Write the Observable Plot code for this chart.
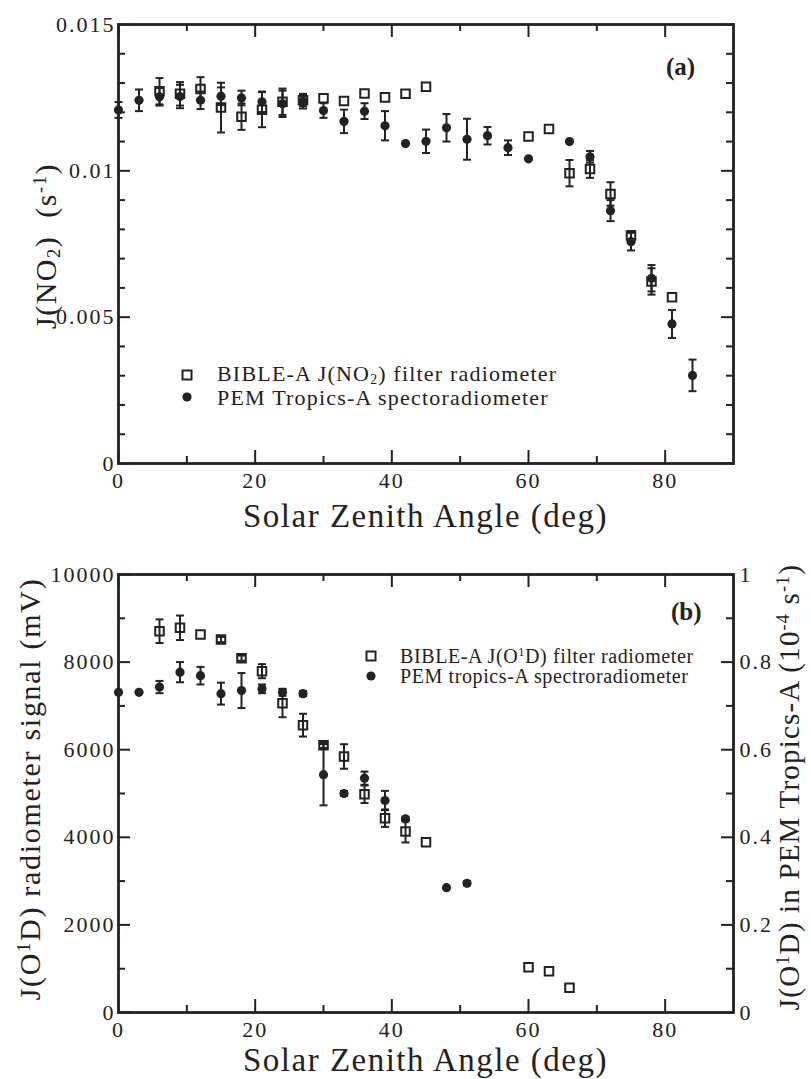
<!DOCTYPE html>
<html><head><meta charset="utf-8">
<script src="https://cdn.jsdelivr.net/npm/d3@7"></script>
<script src="https://cdn.jsdelivr.net/npm/@observablehq/plot@0.6"></script>
<style>
body{margin:0;background:#fff;}
#wrap{position:relative;width:811px;height:1079px;font-family:"Liberation Serif","Times New Roman",Times,"DejaVu Serif",serif;color:#222;overflow:hidden;}
#wrap svg.plot{position:absolute;left:0;}
.abs{position:absolute;white-space:nowrap;line-height:1;}
.rot{transform:translate(-50%,-50%) rotate(-90deg);}
.sub{font-size:0.62em;position:relative;top:0.22em;line-height:0;}
.sup{font-size:0.62em;position:relative;top:-0.55em;line-height:0;}
</style></head><body><div id="wrap"></div><script>
// ---------- data ----------
// Panel (a): J(NO2), s^-1
const bibleA_sza = [6,9,12,15,18,21,24,27,30,33,36,39,42,45,60,63,66,69,72,75,78,81];
const bibleA_j   = [0.01272,0.01263,0.01280,0.01216,0.01185,0.01209,0.01236,0.01241,0.01248,0.01239,0.01264,0.01251,0.01263,0.01287,0.01117,0.01143,0.00992,0.01006,0.00921,0.00779,0.00622,0.00568];
const bibleA_err = [0.00045,0.0004,0.0004,0.00085,0.00045,0.0006,0.00045,0.0002,0,0,0,0,0,0,0,0,0.00045,0.0003,0.0004,0.00015,0.00045,0];
const pemA_sza = [0,3,6,9,12,15,18,21,24,27,30,33,36,39,42,45,48,51,54,57,60,66,69,72,75,78,81,84];
const pemA_j   = [0.01208,0.01241,0.01253,0.01254,0.01241,0.01255,0.01249,0.01236,0.01229,0.01238,0.01206,0.01169,0.01204,0.01154,0.01093,0.01101,0.01147,0.01108,0.01120,0.01079,0.01041,0.01100,0.01048,0.00864,0.00758,0.00633,0.00477,0.00301];
const pemA_err = [0.00027,0.00037,0.0003,0.0004,0.0003,0.0003,0.00025,0.00035,0.00045,0.00025,0.00025,0.0004,0.00027,0.0005,0,0.0004,0.00047,0.0007,0.0003,0.00025,0,0,0.0002,0.00036,0.0003,0.00045,0.00048,0.00054];

// Panel (b): BIBLE-A radiometer signal (mV), PEM J(O1D) in 1e-4 s^-1
const bibleB_sza = [6,9,12,15,18,21,24,27,30,33,36,39,42,45,60,63,66];
const bibleB_mv  = [8706,8783,8630,8516,8089,7793,7062,6560,6100,5845,4984,4437,4132,3888,1034,943,564];
const bibleB_err = [270,280,0,60,60,160,320,260,60,280,200,200,250,0,0,0,0];
const pemB_sza = [0,3,6,9,12,15,18,21,24,27,30,33,36,39,42,48,51];
const pemB_j   = [0.731,0.731,0.743,0.777,0.769,0.728,0.735,0.739,0.731,0.728,0.543,0.500,0.535,0.484,0.442,0.285,0.295];
const pemB_err = [0,0,0.014,0.023,0.020,0.025,0.040,0.010,0.008,0.006,0.070,0.005,0.015,0.022,0.005,0,0.005];

// ticks
const xMajor = [0,20,40,60,80];
const xMinor = [10,30,50,70];
const yMajorA = [0,0.005,0.01,0.015];
const yMinorA = [0.001,0.002,0.003,0.004,0.006,0.007,0.008,0.009,0.011,0.012,0.013,0.014];
const yMajorB = [0,2000,4000,6000,8000,10000];
const yMinorB = [1000,3000,5000,7000,9000];
const rMajorB = [0,0.2,0.4,0.6,0.8,1];
const rMinorB = [0.1,0.3,0.5,0.7,0.9];
const rFactor = 10000; // right axis (1e-4 s^-1) -> left axis (mV) positions

// ---------- drawing ----------
const ink = "#222";
const FONT = '"Liberation Serif","Times New Roman",Times,"DejaVu Serif",serif';
const W = 811, ML = 118, MR = 78, innerW = W - ML - MR;
const cap = {draw(ctx){ ctx.moveTo(-4,0); ctx.lineTo(4,0); }};

function errMarks(xs, vs, es, k = 1) {
  const rows = xs.map((x,i)=>({x, lo:(vs[i]-es[i])*k, hi:(vs[i]+es[i])*k, e:es[i]})).filter(d=>d.e>0);
  return [
    Plot.ruleX(rows,{x:"x",y1:"lo",y2:"hi",stroke:ink,strokeWidth:2}),
    Plot.dot(rows,{x:"x",y:"lo",symbol:cap,stroke:ink,strokeWidth:2}),
    Plot.dot(rows,{x:"x",y:"hi",symbol:cap,stroke:ink,strokeWidth:2})
  ];
}
function squares(xs, vs, k = 1) {
  return Plot.dot(xs.map((x,i)=>({x, y:vs[i]*k})), {x:"x",y:"y",symbol:"square",r:4.8,stroke:ink,strokeWidth:2,fill:"none"});
}
function circles(xs, vs, k = 1) {
  return Plot.dot(xs.map((x,i)=>({x, y:vs[i]*k})), {x:"x",y:"y",r:4.6,fill:ink,stroke:"none"});
}
function frameTicks(innerH, yMaj, yMin, rMaj, rMin) {
  const s = {stroke:ink, strokeWidth:2};
  return [
    Plot.tickX(xMajor, {x:d=>d, insetTop:innerH-13, ...s}),
    Plot.tickX(xMinor, {x:d=>d, insetTop:innerH-7, ...s}),
    Plot.tickX(xMajor, {x:d=>d, insetBottom:innerH-13, ...s}),
    Plot.tickX(xMinor, {x:d=>d, insetBottom:innerH-7, ...s}),
    Plot.tickY(yMaj, {y:d=>d, insetRight:innerW-12, ...s}),
    Plot.tickY(yMin, {y:d=>d, insetRight:innerW-7, ...s}),
    Plot.tickY(rMaj, {y:d=>d, insetLeft:innerW-12, ...s}),
    Plot.tickY(rMin, {y:d=>d, insetLeft:innerW-7, ...s}),
  ];
}
const svgStyle = {fontFamily:FONT, fontSize:"22px", color:ink, letterSpacing:"2px", background:"transparent"};

// Panel (a)
const HA = 540, MTA = 24, MBA = 77, innerHA = HA - MTA - MBA;
const plotA = Plot.plot({
  width:W, height:HA, marginLeft:ML, marginRight:MR, marginTop:MTA, marginBottom:MBA,
  style:svgStyle,
  x:{domain:[0,90]}, y:{domain:[0,0.015]},
  marks:[
    ...frameTicks(innerHA, yMajorA, yMinorA, [...yMajorA], [...yMinorA]),
    Plot.frame({stroke:ink, strokeWidth:2.8}),
    Plot.axisX(xMajor, {tickSize:0, tickPadding:9, fontSize:22, label:null}),
    Plot.axisY(yMajorA, {tickSize:0, tickPadding:3, fontSize:22, label:null, tickFormat:d=>String(d)}),
    ...errMarks(bibleA_sza, bibleA_j, bibleA_err),
    ...errMarks(pemA_sza, pemA_j, pemA_err),
    squares(bibleA_sza, bibleA_j),
    circles(pemA_sza, pemA_j)
  ]
});
plotA.classList.add("plot"); plotA.style.top = "0px";

// Panel (b)
const HB = 539, MTB = 34, MBB = 67, innerHB = HB - MTB - MBB;
const plotB = Plot.plot({
  width:W, height:HB, marginLeft:ML, marginRight:MR, marginTop:MTB, marginBottom:MBB,
  style:svgStyle,
  x:{domain:[0,90]}, y:{domain:[0,10000]},
  marks:[
    ...frameTicks(innerHB, yMajorB, yMinorB, rMajorB.map(d=>d*rFactor), rMinorB.map(d=>d*rFactor)),
    Plot.frame({stroke:ink, strokeWidth:2.8}),
    Plot.axisX(xMajor, {tickSize:0, tickPadding:9, fontSize:22, label:null}),
    Plot.axisY(yMajorB, {tickSize:0, tickPadding:3, fontSize:22, label:null, tickFormat:d=>String(d)}),
    Plot.axisY(rMajorB.map(d=>d*rFactor), {anchor:"right", tickSize:0, tickPadding:6, fontSize:22, label:null, tickFormat:d=>String(+(d/rFactor).toFixed(1))}),
    ...errMarks(bibleB_sza, bibleB_mv, bibleB_err),
    ...errMarks(pemB_sza, pemB_j, pemB_err, rFactor),
    squares(bibleB_sza, bibleB_mv),
    circles(pemB_sza, pemB_j, rFactor)
  ]
});
plotB.classList.add("plot"); plotB.style.top = "540px";

const wrap = document.getElementById("wrap");
wrap.appendChild(plotA); wrap.appendChild(plotB);

function addText(html, css, cls = "") {
  const d = document.createElement("div");
  d.className = "abs " + cls; d.innerHTML = html;
  Object.assign(d.style, css); wrap.appendChild(d); return d;
}
const sqIcon = `<svg width="14" height="14" style="display:block"><rect x="2.5" y="2.5" width="9" height="9" fill="none" stroke="${ink}" stroke-width="2"/></svg>`;
const dotIcon = `<svg width="14" height="14" style="display:block"><circle cx="7" cy="7" r="4.6" fill="${ink}"/></svg>`;

// axis titles
const xTitle = "Solar Zenith Angle (deg)";
addText(xTitle, {left:ML+"px", width:innerW+"px", textAlign:"center", top:"500px", fontSize:"33px", letterSpacing:"1.5px"});
addText(xTitle, {left:ML+"px", width:innerW+"px", textAlign:"center", top:"1044px", fontSize:"33px", letterSpacing:"1.5px"});
addText('J(NO<span class="sub">2</span>)&nbsp; (s<span class="sup">-1</span>)', {left:"46px", top:"246px", fontSize:"30px", letterSpacing:"1.5px"}, "rot");
addText('J(O<span class="sup">1</span>D) radiometer signal (mV)', {left:"30px", top:"789px", fontSize:"30px", letterSpacing:"1.7px"}, "rot");
addText('J(O<span class="sup">1</span>D) in PEM Tropics-A (10<span class="sup">-4</span> s<span class="sup">-1</span>)', {left:"789px", top:"787px", fontSize:"29px", letterSpacing:"1.2px"}, "rot");

// panel letters
addText("(a)", {left:"666px", top:"54px", fontSize:"25px", fontWeight:"bold"});
addText("(b)", {left:"671px", top:"599px", fontSize:"25px", fontWeight:"bold"});

// legends
const legA = ['BIBLE-A J(NO<span class="sub">2</span>) filter radiometer', 'PEM Tropics-A spectoradiometer'];
const legB = ['BIBLE-A J(O<span class="sup">1</span>D) filter radiometer', 'PEM tropics-A spectroradiometer'];
addText(sqIcon, {left:"180px", top:"368px"});
addText(dotIcon, {left:"180px", top:"390px"});
addText(legA[0], {left:"217px", top:"363px", fontSize:"22px", letterSpacing:"1.2px"});
addText(legA[1], {left:"217px", top:"387px", fontSize:"22px", letterSpacing:"1.2px"});
addText(sqIcon, {left:"364px", top:"649px"});
addText(dotIcon, {left:"364px", top:"669px"});
addText(legB[0], {left:"400px", top:"646px", fontSize:"20px", letterSpacing:"0.6px"});
addText(legB[1], {left:"400px", top:"666px", fontSize:"20px", letterSpacing:"0.6px"});
</script></body></html>
